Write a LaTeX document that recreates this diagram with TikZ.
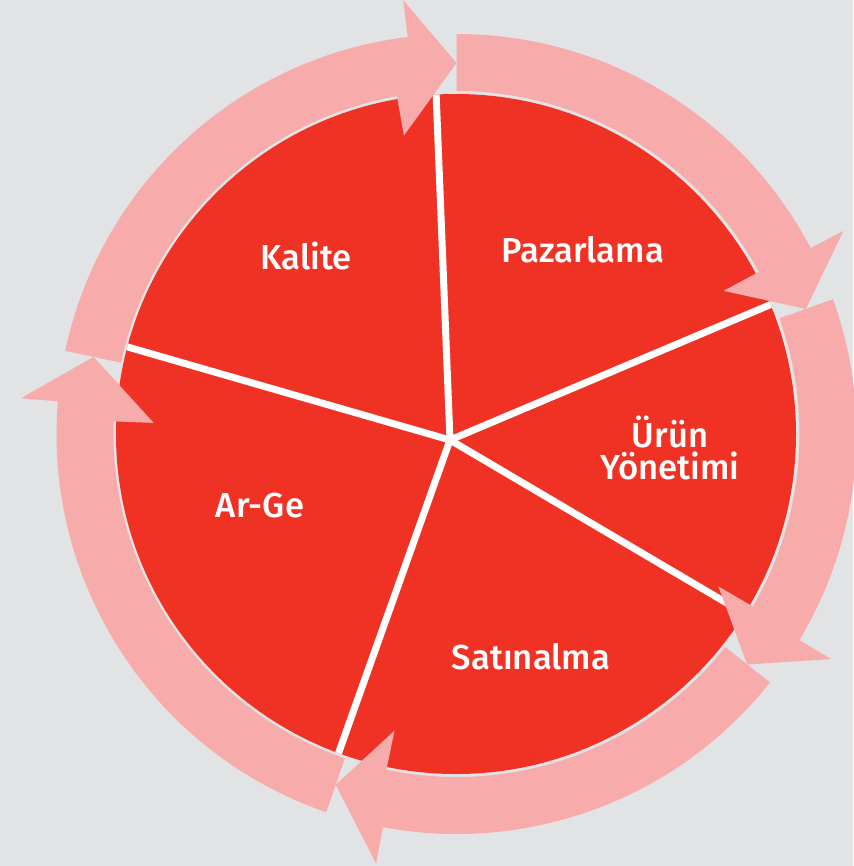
\documentclass[tikz,border=0pt]{standalone}
\usepackage{fontspec}
\setmainfont{Fira Sans}[BoldFont={Fira Sans Medium}]
\usepackage{xcolor}
\usepackage{tikz}

\definecolor{wheelred}{RGB}{240,50,36}
\definecolor{ringpink}{RGB}{247,171,171}
\definecolor{bggray}{RGB}{225,227,229}

\begin{document}
\begin{tikzpicture}[x=0.75pt,y=0.75pt,yscale=-1,xscale=1,
  ringarrow/.style={fill=ringpink,draw=none},
  spoke/.style={draw=white,line width=5.25pt},
  segtext/.style={text=white,font=\fontsize{26}{24}\selectfont\bfseries,align=center,inner sep=0pt}]
%set diagram to the size of the reference
\fill[bggray] (0,0) rectangle (853,866);
\useasboundingbox (0,0) rectangle (853,866);

%Shape: Circle
\fill[wheelred] (456,434) circle [radius=340];

%Straight Lines: spokes from the hub
\begin{scope}
\clip (456,434) circle [radius=340];
\coordinate (hub) at (450,440);
\draw[spoke] (hub) -- ++(-92.3:420);
\draw[spoke] (hub) -- ++(-22.9:420);
\draw[spoke] (hub) -- ++(30.5:420);
\draw[spoke] (hub) -- ++(109.6:420);
\draw[spoke] (hub) -- ++(196.1:420);
\end{scope}

%Shape: Ring arrows, clockwise
\begin{scope}[shift={(456.5,434)}]
%Kalite -> Pazarlama
\path[ringarrow] (-90:400) arc[start angle=-90,end angle=-27.7,radius=400] -- (-27.7:437) -- (-19.7:371) -- (-28.2:303) -- (-28.2:343) arc[start angle=-28.2,end angle=-90,radius=343] -- cycle;
%Pazarlama -> Urun Yonetimi
\path[ringarrow] (-19.7:400) arc[start angle=-19.7,end angle=31,radius=400] -- (31:437) -- (38.4:371) -- (30.2:303) -- (30.2:343) arc[start angle=30.2,end angle=-19.7,radius=343] -- cycle;
%Urun Yonetimi -> Satinalma
\path[ringarrow] (38.4:400) arc[start angle=38.4,end angle=100.6,radius=400] -- (100.6:437) -- (109:371) -- (101.8:303) -- (101.8:343) arc[start angle=101.8,end angle=38.4,radius=343] -- cycle;
%Satinalma -> Ar-Ge
\path[ringarrow] (109:400) arc[start angle=109,end angle=184.7,radius=400] -- (184.7:437) -- (192:371) -- (182.1:303) -- (182.1:343) arc[start angle=182.1,end angle=109,radius=343] -- cycle;
%Ar-Ge -> Kalite
\path[ringarrow] (192:400) arc[start angle=192,end angle=263,radius=400] -- (263:437) -- (270:371) -- (260:303) -- (260:343) arc[start angle=260,end angle=192,radius=343] -- cycle;
\end{scope}

% Text Node
\node[segtext] (kalite) at (306,256) {Kalite};
% Text Node
\node[segtext] (pazarlama) at (583,250) {Pazarlama};
% Text Node
\node[segtext] (urun) at (670,448) {Ürün\\Yönetimi};
% Text Node
\node[segtext] (arge) at (260,506) {Ar-Ge};
% Text Node
\node[segtext] (satinalma) at (531,657) {Satınalma};
\end{tikzpicture}
\end{document}
